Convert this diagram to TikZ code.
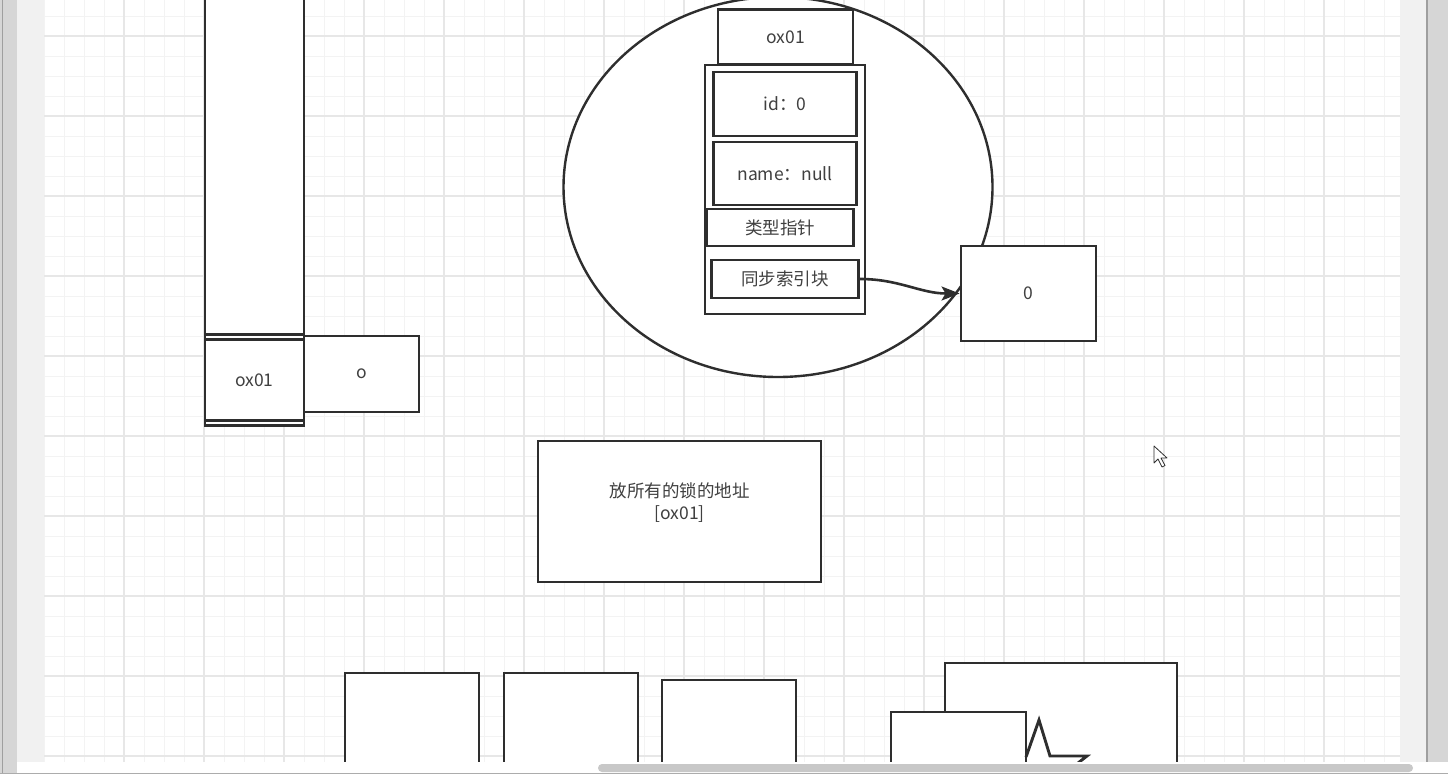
\documentclass[tikz,border=0pt]{standalone}
\usepackage{fontspec}
\setmainfont{Noto Sans CJK SC}
\usetikzlibrary{arrows.meta, shapes.geometric}
\definecolor{ink}{HTML}{2E2E2E}
\definecolor{txt}{HTML}{404040}
\definecolor{gridminor}{HTML}{F3F3F3}
\definecolor{gridmajor}{HTML}{E7E7E7}
\definecolor{panel}{HTML}{F1F1F1}
\definecolor{bar}{HTML}{D6D6D6}
\definecolor{thumb}{HTML}{C8C8C8}
\def\lbl{\fontsize{17.5}{22}\selectfont}

\begin{document}
\begin{tikzpicture}[x=1pt, y=-1pt,
    box/.style={draw=ink, line width=2.9pt, fill=white, text=txt, font=\lbl,
        inner sep=0pt, align=center},
    link/.style={draw=ink, line width=2.6pt, -{Stealth[length=18pt, width=14pt, inset=4pt]}}]
    \useasboundingbox (0,0) rectangle (1448,774);
    \clip (0,0) rectangle (1448,774);

    % canvas grid
    \fill[white] (44,0) rectangle (1400,762);
    \foreach \x in {44,64,...,1400} \draw[gridminor, line width=1pt] (\x,0) -- (\x,762);
    \foreach \y in {16,36,...,756} \draw[gridminor, line width=1pt] (44,\y) -- (1400,\y);
    \foreach \x in {124,204,...,1400} \draw[gridmajor, line width=1.1pt] (\x,0) -- (\x,762);
    \foreach \y in {36,116,...,756} \draw[gridmajor, line width=1.1pt] (44,\y) -- (1400,\y);

    % stack column
    \node[box, minimum width=99pt, minimum height=350pt] (col) at (254.5,159.5) {};
    \node[box, minimum width=99pt, minimum height=91pt] (slot) at (254.5,380) {};
    \node[box, minimum width=99pt, minimum height=81pt] (addr) at (254.5,380) {ox01};
    \node[box, minimum width=115pt, minimum height=76pt] (obj) at (361.5,374) {o};

    % heap object
    \node[box, ellipse, line width=2.4pt, minimum width=429pt, minimum height=380pt] (heap) at (778,187) {};
    \node[box, minimum width=135pt, minimum height=55pt] (head) at (785.5,37) {ox01};
    \node[box, minimum width=160pt, minimum height=249pt] (body) at (785,189.5) {};
    \node[box, minimum width=143pt, minimum height=64pt] (idf) at (785,104) {id：0};
    \node[box, minimum width=143pt, minimum height=63pt] (namef) at (785,173.5) {name：null};
    \node[box, minimum width=147pt, minimum height=37pt] (klass) at (780,227.5) {类型指针};
    \node[box, minimum width=147pt, minimum height=38pt] (sync) at (785,279) {同步索引块};
    \node[box, minimum width=135pt, minimum height=95pt] (zero) at (1028.5,293.5) {0};
    \draw[link] (sync.east) to[out=0, in=180] (zero.west);

    % lock table
    \node[box, minimum width=283pt, minimum height=141pt] (lock) at (679.5,511.5) {};
    \node[text=txt, font=\lbl, align=center, inner sep=0pt] (locktext)
        at ([yshift=9pt]lock.center) {放所有的锁的地址\\{}[ox01]};

    % shapes cut by the bottom edge
    \node[box, minimum width=134pt, minimum height=95pt] (partA) at (412,720.5) {};
    \node[box, minimum width=134pt, minimum height=95pt] (partB) at (571,720.5) {};
    \node[box, minimum width=134pt, minimum height=88pt] (partC) at (729,724) {};
    \node[box, minimum width=232pt, minimum height=105pt] (backE) at (1061,715.5) {};
    \node[box, minimum width=135pt, minimum height=56pt] (frontE) at (958.5,740) {};
    \draw[ink, line width=2.9pt] (1026,757) -- (1039,720) -- (1050,756) -- (1087,756) -- (1078,763);

    % mouse pointer
    \draw[ink, fill=white, line width=0.8pt, line join=round] (1154,446) -- ++(0,17)
        -- ++(4,-4) -- ++(4,8) -- ++(3,-1.5) -- ++(-4,-7.5) -- ++(6,0) -- cycle;

    % window frame
    \fill[bar] (0,0) rectangle (17,774);
    \draw[gray!75, line width=1.5pt] (2.5,0) -- (2.5,774);
    \fill[panel] (17,0) rectangle (44,762);
    \fill[panel] (1400,0) rectangle (1426,762);
    \fill[bar] (1426,0) rectangle (1448,774);
    \draw[gray!75, line width=1.5pt] (1427,0) -- (1427,762);
    \fill[white] (17,762) rectangle (1426,774);
    \fill[white] (1413,762) rectangle (1448,774);
    \fill[thumb, rounded corners=4pt] (598,764) rectangle (1413,772);
    \draw[gray!65, line width=1.2pt] (0,773.4) -- (1448,773.4);
\end{tikzpicture}
\end{document}
